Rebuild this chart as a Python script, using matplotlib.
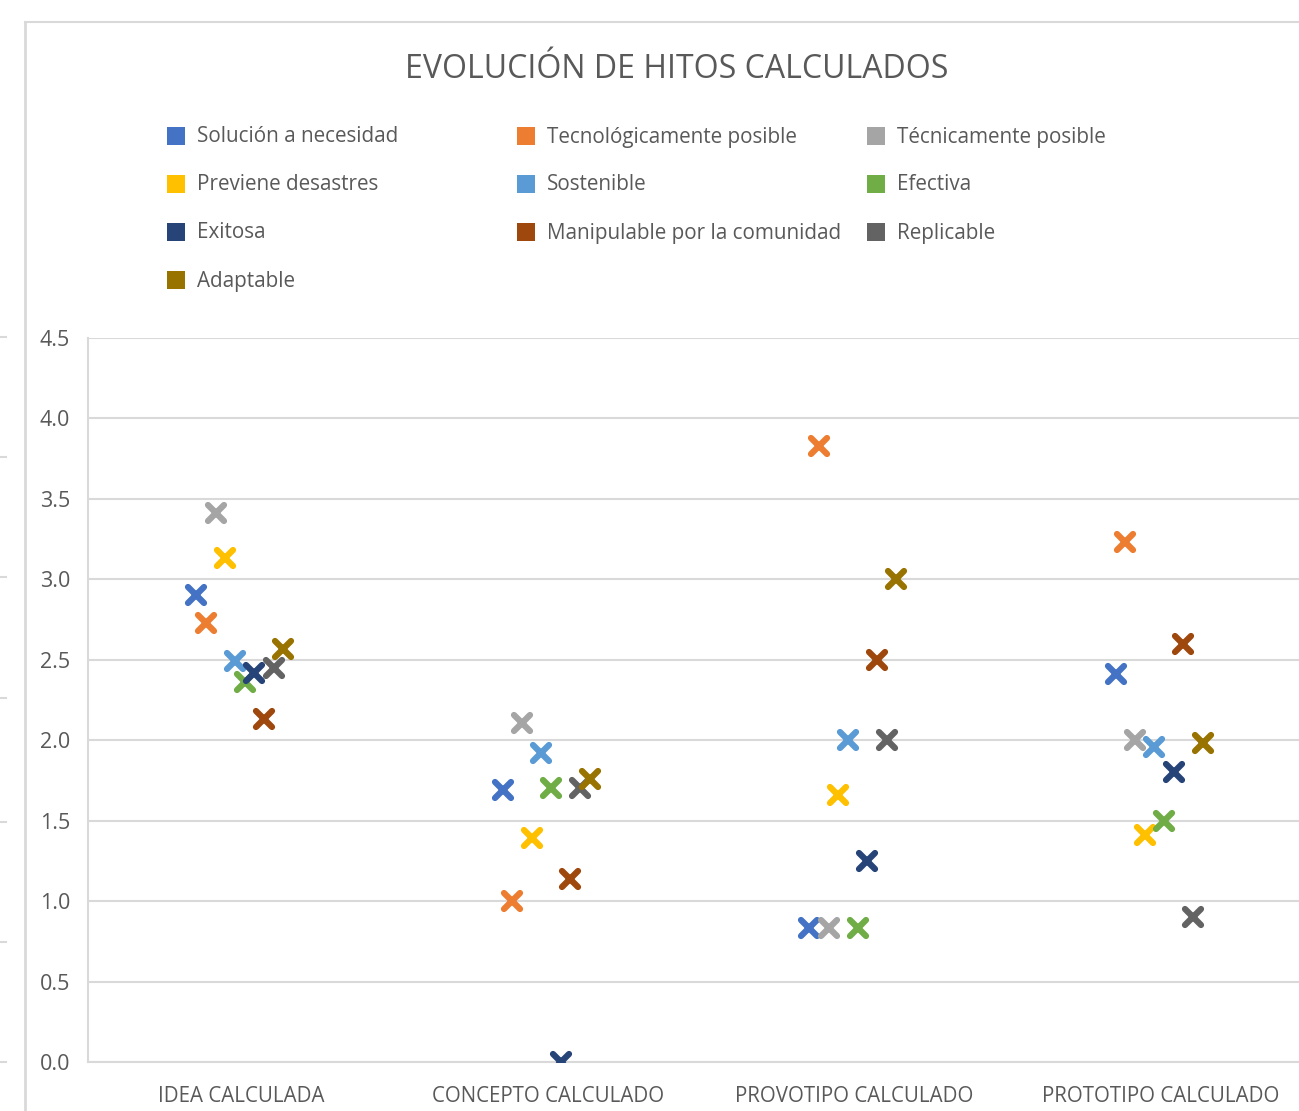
import matplotlib
matplotlib.use('Agg')
import matplotlib.pyplot as plt
from matplotlib.markers import MarkerStyle
from matplotlib.lines import Line2D
from matplotlib.patches import Rectangle

plt.rcParams['font.family'] = ['Open Sans', 'DejaVu Sans']

# data
categories = ['IDEA CALCULADA', 'CONCEPTO CALCULADO', 'PROVOTIPO CALCULADO', 'PROTOTIPO CALCULADO']
series_names = ['Solución a necesidad', 'Tecnológicamente posible', 'Técnicamente posible',
                'Previene desastres', 'Sostenible', 'Efectiva',
                'Exitosa', 'Manipulable por la comunidad', 'Replicable', 'Adaptable']
solucion = [2.90, 1.69, 0.83, 2.41]
tecnologicamente = [2.73, 1.00, 3.83, 3.23]
tecnicamente = [3.41, 2.11, 0.83, 2.00]
previene = [3.13, 1.39, 1.66, 1.41]
sostenible = [2.49, 1.92, 2.00, 1.96]
efectiva = [2.36, 1.70, 0.83, 1.50]
exitosa = [2.42, 0.00, 1.25, 1.80]
manipulable = [2.13, 1.14, 2.50, 2.60]
replicable = [2.45, 1.70, 2.00, 0.90]
adaptable = [2.57, 1.76, 3.00, 1.98]
series_values = [solucion, tecnologicamente, tecnicamente, previene, sostenible,
                 efectiva, exitosa, manipulable, replicable, adaptable]
colors = ['#4472C4', '#ED7D31', '#A5A5A5', '#FFC000', '#5B9BD5',
          '#70AD47', '#264478', '#9E480E', '#636363', '#997300']

W, H = 1299, 1111
fig = plt.figure(figsize=(W / 100, H / 100), dpi=100)

# plot area (runs past the right edge, as in the cropped screenshot)
x0, x1, ytop, ybot = 88, 1314, 338, 1062
ax = fig.add_axes([x0 / W, 1 - ybot / H, (x1 - x0) / W, (ybot - ytop) / H])

text_col = '#595959'
grid_col = '#D9D9D9'

mk = MarkerStyle('x', capstyle='round')
step = 0.0316
n = len(series_names)
for i, (name, vals, c) in enumerate(zip(series_names, series_values, colors)):
    xs = [k + 0.495 + (i - (n - 1) / 2) * step for k in range(len(categories))]
    ax.plot(xs, vals, linestyle='none', marker=mk, markersize=12,
            markeredgewidth=4.5, color=c, label=name, zorder=3)

ax.set_xlim(0, len(categories))
ax.set_ylim(0, 4.5)
ax.set_yticks([0, 0.5, 1, 1.5, 2, 2.5, 3, 3.5, 4, 4.5])
ax.set_yticklabels([f'{v:.1f}' for v in ax.get_yticks()])
ax.set_xticks([k + 0.5 for k in range(len(categories))])
ax.set_xticklabels(categories)
ax.tick_params(axis='both', length=0, labelsize=14.8, labelcolor=text_col)
ax.tick_params(axis='y', labelsize=15.5, pad=13)
ax.tick_params(axis='x', pad=17)
ax.yaxis.grid(True, color=grid_col, linewidth=1.5)
ax.set_axisbelow(True)
for s in ['top', 'right']:
    ax.spines[s].set_visible(False)
ax.spines['left'].set_color(grid_col)
ax.spines['left'].set_linewidth(1.5)
ax.spines['bottom'].set_color(grid_col)
ax.spines['bottom'].set_linewidth(1.5)

# title
fig.text(677 / W, 1 - 69 / H, 'EVOLUCIÓN DE HITOS CALCULADOS', ha='center', va='center',
         fontsize=23, color=text_col)

# legend laid out row by row like the original
col_x = [176, 526, 876]
row_y = [136, 184, 232, 280]
for i, (name, c) in enumerate(zip(series_names, colors)):
    r, cidx = divmod(i, 3)
    cx, cy = col_x[cidx], row_y[r]
    fig.patches.append(Rectangle(((cx - 9) / W, 1 - (cy + 9) / H), 18 / W, 18 / H,
                                 transform=fig.transFigure, facecolor=c, edgecolor='none'))
    fig.text((cx + 21) / W, 1 - (cy + 1) / H, name, ha='left', va='center',
             fontsize=14.9, color=text_col)

# chart frame and neighbouring chart remnants
frame = '#D9D9D9'
fig.add_artist(Line2D([25 / W, 25 / W], [0, 1 - 22 / H], transform=fig.transFigure,
                      color=frame, linewidth=2))
fig.add_artist(Line2D([25 / W, 1], [1 - 22 / H, 1 - 22 / H], transform=fig.transFigure,
                      color=frame, linewidth=1.5))
for ty in [337, 457, 577, 698, 822, 942, 1062]:
    fig.add_artist(Line2D([0, 6 / W], [1 - ty / H, 1 - ty / H], transform=fig.transFigure,
                          color=frame, linewidth=1.5))

fig.savefig('out.png', dpi=100, facecolor='white')
